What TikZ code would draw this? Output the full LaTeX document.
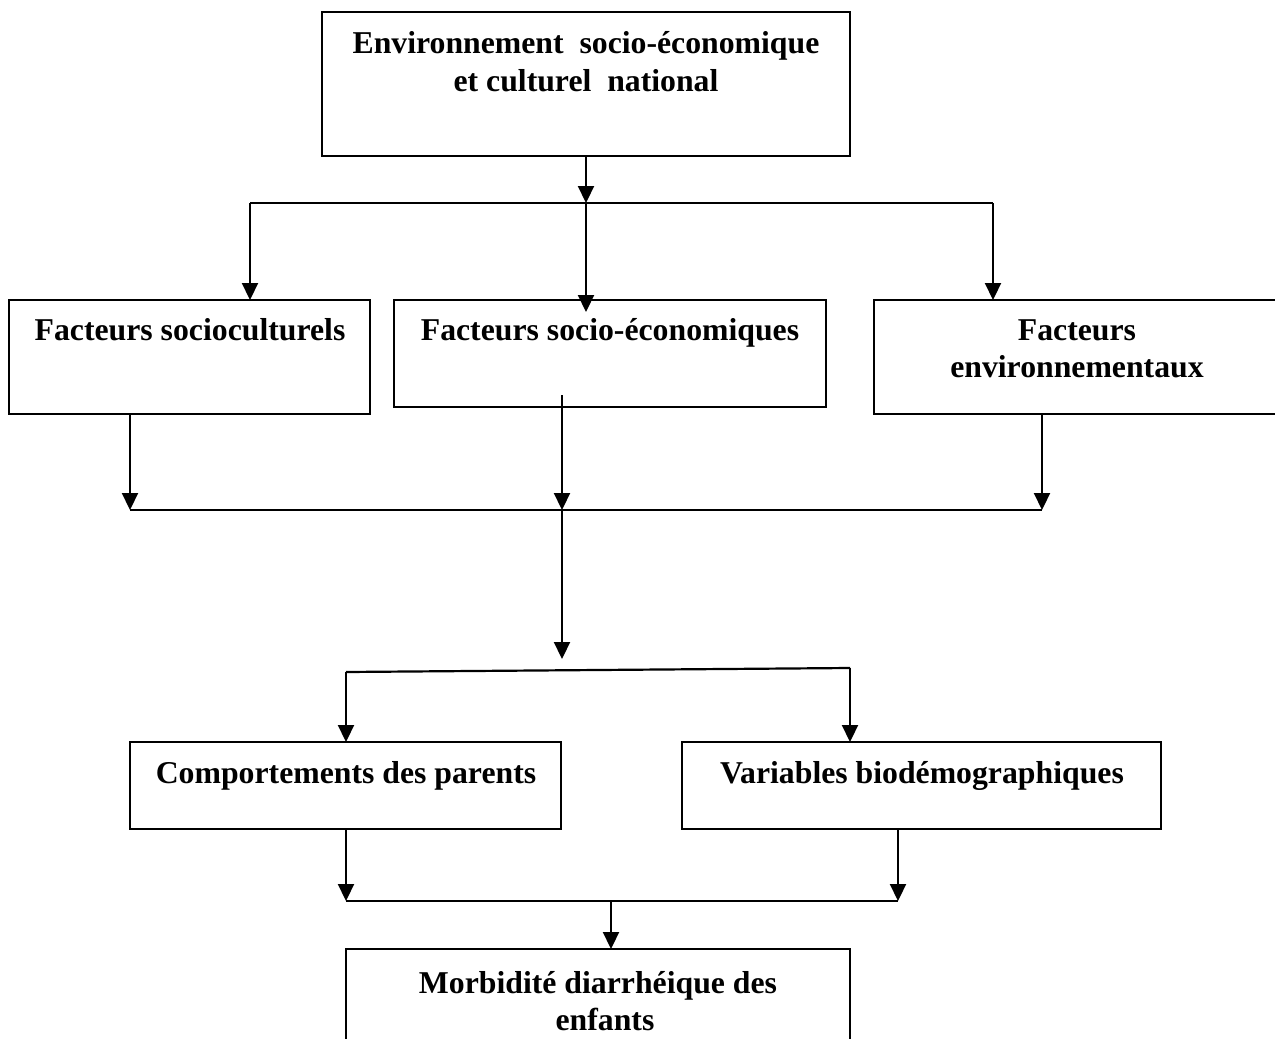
\documentclass[tikz,border=0pt]{standalone}
\usepackage{fontspec}
\setmainfont{Liberation Serif}
\usetikzlibrary{arrows.meta}
\begin{document}
\begin{tikzpicture}[x=1pt,y=-1pt,
  box/.style={draw, line width=2.2pt, rectangle, inner sep=0pt, outer sep=0pt, anchor=north west},
  lbl/.style={font=\bfseries\fontsize{31.75}{38}\selectfont, inner sep=0pt, anchor=base},
  conn/.style={line width=2.2pt},
  arr/.style={line width=2.2pt, -{Triangle[length=17pt,width=16pt]}}]
\useasboundingbox (0,0) rectangle (1275,1039);

% boxes
\node[box, minimum width=528pt, minimum height=144pt] (env) at (322,12) {};
\node[lbl] (envA) at (586,53) {Environnement\ \ socio-économique};
\node[lbl] (envB) at (586,91) {et culturel\ \ national};

\node[box, minimum width=361pt, minimum height=114pt] (soc) at (9,300) {};
\node[lbl] (socA) at (190,340) {Facteurs socioculturels};

\node[box, minimum width=432pt, minimum height=107pt] (eco) at (394,300) {};
\node[lbl] (ecoA) at (610,340) {Facteurs socio-économiques};

\node[box, minimum width=407pt, minimum height=114pt] (envi) at (874,300) {};
\node[lbl] (enviA) at (1077,340) {Facteurs};
\node[lbl] (enviB) at (1077,377) {environnementaux};

\node[box, minimum width=431pt, minimum height=87pt] (comp) at (130,742) {};
\node[lbl] (compA) at (346,783) {Comportements des parents};

\node[box, minimum width=479pt, minimum height=87pt] (var) at (682,742) {};
\node[lbl] (varA) at (922,783) {Variables biodémographiques};

\node[box, minimum width=504pt, minimum height=110pt] (morb) at (346,949) {};
\node[lbl] (morbA) at (598,993) {Morbidité diarrhéique des};
\node[lbl] (morbB) at (605,1030) {enfants};

% first level connectors
\coordinate (j1) at (586,203);
\coordinate (jL) at (250,203);
\coordinate (jR) at (993,203);
\coordinate (ecoIn) at (586,312);
\draw[arr] (env.south) -- (j1);
\draw[conn] (jL) -- (jR);
\draw[arr] (jL) -- (jL |- soc.north);
\draw[arr] (j1) -- (ecoIn);
\draw[arr] (jR) -- (jR |- envi.north);

% second level
\coordinate (k1) at (130,510);
\coordinate (k2) at (562,510);
\coordinate (k3) at (1042,510);
\coordinate (ecoOut) at (562,395);
\coordinate (k4) at (562,659);
\draw[arr] (k1 |- soc.south) -- (k1);
\draw[arr] (ecoOut) -- (k2);
\draw[arr] (k3 |- envi.south) -- (k3);
\draw[conn] (k1) -- (k3);
\draw[arr] (k2) -- (k4);

% third level
\coordinate (m1) at (346,672);
\coordinate (m2) at (850,668);
\draw[conn] (m1) -- (m2);
\draw[arr] (m1) -- (m1 |- comp.north);
\draw[arr] (m2) -- (m2 |- var.north);

% fourth level
\coordinate (n1) at (346,901);
\coordinate (n2) at (898,901);
\coordinate (n3) at (611,901);
\draw[arr] (n1 |- comp.south) -- (n1);
\draw[arr] (n2 |- var.south) -- (n2);
\draw[conn] (n1) -- (n2);
\draw[arr] (n3) -- (n3 |- morb.north);
\end{tikzpicture}
\end{document}
